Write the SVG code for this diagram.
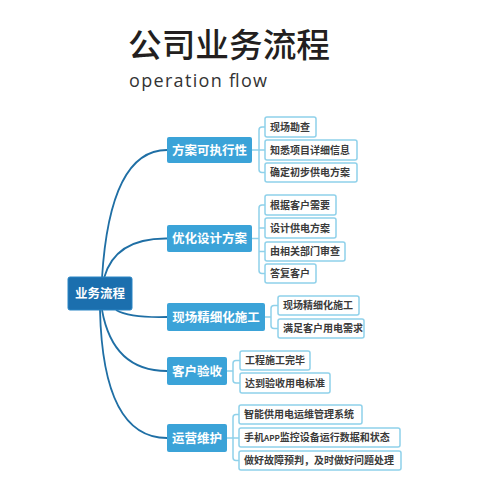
<svg xmlns="http://www.w3.org/2000/svg" width="500" height="500" viewBox="0 0 500 500">
<style>
.bg{fill:#ffffff}
.title{font-family:"Noto Sans CJK SC","Noto Sans",sans-serif;font-size:33px;font-weight:500;fill:#231f20}
.sub{font-family:"Open Sans","Noto Sans",sans-serif;font-size:18px;fill:#333333}
.root rect{fill:#1b6fae;stroke:#2a86c5;stroke-width:1}
.l1 rect{fill:#3ba3d8}
.root text,.l1 text{font-family:"Noto Sans CJK SC",sans-serif;font-size:12.5px;font-weight:700;fill:#ffffff;text-anchor:middle}
.leaf rect{fill:#ffffff;stroke:#8fd1ea;stroke-width:1.5}
.leaf text{font-family:"Noto Sans CJK SC",sans-serif;font-size:10px;font-weight:700;fill:#3a3a3a}
.main{fill:none;stroke:#1f6fa5;stroke-width:1.8}
.sub-c{fill:none;stroke:#8fd1ea;stroke-width:1.5}
</style>
<rect class="bg" x="0" y="0" width="500" height="500"/>
<text class="title" x="128" y="57" textLength="202" lengthAdjust="spacingAndGlyphs">公司业务流程</text>
<text class="sub" x="129" y="87" textLength="138" lengthAdjust="spacing">operation flow</text>

<g id="connectors">
  <path class="main" d="M102,278 Q110,150 167,150"/>
  <path class="main" d="M104,278 Q115,238 167,238.5"/>
  <path class="main" d="M116,310 Q130,318 167,317"/>
  <path class="main" d="M102,310 Q113,371 167,371"/>
  <path class="main" d="M100,310 Q103,438 167,438"/>

  <path class="sub-c" d="M252,150 H265 M265,127 H262 Q259,127 259,130 V169.5 Q259,172.5 262,172.5 H265"/>
  <path class="sub-c" d="M252,238.5 H259 M265,205 H262 Q259,205 259,208 V270.5 Q259,273.5 262,273.5 H265 M259,228 H265 M259,251.5 H265"/>
  <path class="sub-c" d="M265,317 H271 M278,305.5 H274 Q271,305.5 271,308.5 V325.5 Q271,328.5 274,328.5 H278"/>
  <path class="sub-c" d="M227,371 H233 M240,360.5 H236 Q233,360.5 233,363.5 V380 Q233,383 236,383 H240"/>
  <path class="sub-c" d="M227,438 H239 M239,414.5 H236 Q233,414.5 233,417.5 V457.5 Q233,460.5 236,460.5 H239"/>
</g>

<g id="root" class="root"><rect x="68" y="277" width="64" height="33" rx="2"/><text x="100" y="298">业务流程</text></g>

<g id="n1" class="l1"><rect x="167" y="137" width="85" height="26" rx="2"/><text x="209.5" y="154.5">方案可执行性</text></g>
<g id="n2" class="l1"><rect x="167" y="225" width="85" height="27" rx="2"/><text x="209.5" y="243">优化设计方案</text></g>
<g id="n3" class="l1"><rect x="167" y="303" width="98" height="28" rx="2"/><text x="216" y="321.5">现场精细化施工</text></g>
<g id="n4" class="l1"><rect x="167" y="357" width="60" height="28" rx="2"/><text x="197" y="375.5">客户验收</text></g>
<g id="n5" class="l1"><rect x="167" y="424" width="60" height="28" rx="2"/><text x="197" y="442.5">运营维护</text></g>

<g id="n1a" class="leaf"><rect x="265" y="117" width="51" height="20" rx="2"/><text x="270" y="130.5">现场勘查</text></g>
<g id="n1b" class="leaf"><rect x="265" y="140" width="92" height="20" rx="2"/><text x="270" y="153.5">知悉项目详细信息</text></g>
<g id="n1c" class="leaf"><rect x="265" y="163" width="92" height="19" rx="2"/><text x="270" y="176">确定初步供电方案</text></g>

<g id="n2a" class="leaf"><rect x="265" y="195" width="71" height="20" rx="2"/><text x="270" y="208.5">根据客户需要</text></g>
<g id="n2b" class="leaf"><rect x="265" y="218" width="71" height="20" rx="2"/><text x="270" y="231.5">设计供电方案</text></g>
<g id="n2c" class="leaf"><rect x="265" y="242" width="80" height="19" rx="2"/><text x="270" y="255">由相关部门审查</text></g>
<g id="n2d" class="leaf"><rect x="265" y="264" width="51" height="19" rx="2"/><text x="270" y="277">答复客户</text></g>

<g id="n3a" class="leaf"><rect x="278" y="296" width="81" height="19" rx="2"/><text x="283" y="309">现场精细化施工</text></g>
<g id="n3b" class="leaf"><rect x="278" y="319" width="86" height="19" rx="2"/><text x="283" y="332">满足客户用电需求</text></g>

<g id="n4a" class="leaf"><rect x="240" y="351" width="70" height="19" rx="2"/><text x="245" y="364">工程施工完毕</text></g>
<g id="n4b" class="leaf"><rect x="240" y="373" width="90" height="20" rx="2"/><text x="245" y="386.5">达到验收用电标准</text></g>

<g id="n5a" class="leaf"><rect x="239" y="405" width="123" height="19" rx="2"/><text x="244" y="418">智能供用电运维管理系统</text></g>
<g id="n5b" class="leaf"><rect x="239" y="428" width="161" height="19" rx="2"/><text x="244" y="441">手机<tspan font-size="8">APP</tspan>监控设备运行数据和状态</text></g>
<g id="n5c" class="leaf"><rect x="239" y="451" width="162" height="19" rx="2"/><text x="244" y="464">做好故障预判，及时做好问题处理</text></g>
</svg>
